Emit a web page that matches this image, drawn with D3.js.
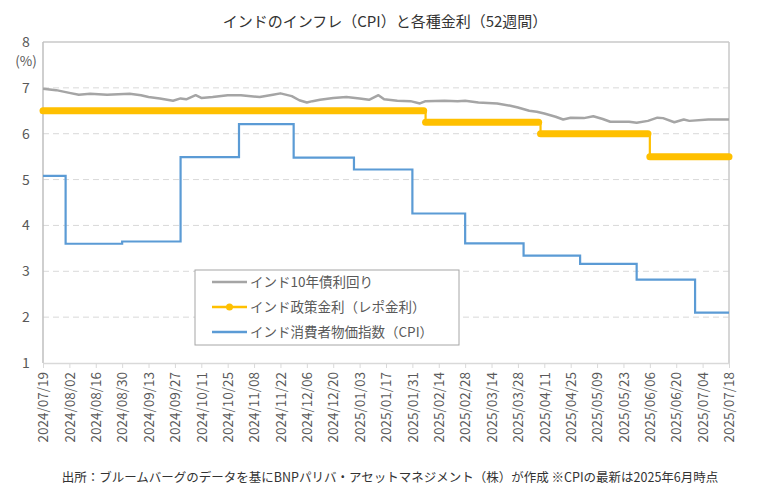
<!DOCTYPE html>
<html>
<head>
<meta charset="utf-8">
<script src="https://cdn.jsdelivr.net/npm/d3@7"></script>
<style>
  body { margin: 0; background: #fff; }
  svg text { font-family: "Noto Sans CJK JP", "Noto Sans", sans-serif; }
</style>
</head>
<body>
<div id="chart-container"></div>
<script>
// 10年債利回り（読み取り値）
const bondDates = ["2024-07-19","2024-07-26","2024-08-02","2024-08-07","2024-08-13","2024-08-22","2024-09-03","2024-09-09","2024-09-13","2024-09-19","2024-09-26","2024-09-30","2024-10-03","2024-10-08","2024-10-11","2024-10-17","2024-10-25","2024-11-01","2024-11-11","2024-11-18","2024-11-22","2024-11-28","2024-12-02","2024-12-06","2024-12-09","2024-12-13","2024-12-20","2024-12-27","2025-01-03","2025-01-08","2025-01-13","2025-01-16","2025-01-23","2025-01-30","2025-02-04","2025-02-07","2025-02-17","2025-02-24","2025-02-28","2025-03-07","2025-03-17","2025-03-24","2025-03-28","2025-04-03","2025-04-07","2025-04-11","2025-04-17","2025-04-21","2025-04-25","2025-05-02","2025-05-07","2025-05-12","2025-05-16","2025-05-26","2025-05-30","2025-06-05","2025-06-10","2025-06-13","2025-06-19","2025-06-24","2025-06-27","2025-07-07","2025-07-18"];
const bondValues = [6.98,6.95,6.89,6.85,6.87,6.85,6.87,6.84,6.80,6.77,6.72,6.77,6.75,6.84,6.78,6.80,6.84,6.84,6.80,6.85,6.88,6.82,6.73,6.68,6.71,6.74,6.78,6.80,6.77,6.74,6.84,6.75,6.72,6.71,6.66,6.71,6.72,6.71,6.72,6.68,6.66,6.61,6.57,6.50,6.48,6.44,6.37,6.31,6.35,6.34,6.38,6.32,6.26,6.26,6.24,6.28,6.35,6.34,6.25,6.31,6.28,6.31,6.31];

// 政策金利（レポ金利）
const repoDates = ["2024-07-19","2025-02-07","2025-04-09","2025-06-06","2025-07-18"];
const repoValues = [6.50,6.25,6.00,5.50,5.50];

// CPI（前年比）
const cpiDates = ["2024-07-19","2024-07-31","2024-08-30","2024-09-30","2024-10-31","2024-11-29","2024-12-31","2025-01-31","2025-02-28","2025-03-31","2025-04-30","2025-05-30","2025-06-30","2025-07-18"];
const cpiValues = [5.08,3.60,3.65,5.49,6.21,5.48,5.22,4.26,3.61,3.34,3.16,2.82,2.10,2.10];

const yTicks = [1,2,3,4,5,6,7,8];
const seriesNames = ["インド10年債利回り","インド政策金利（レポ金利）","インド消費者物価指数（CPI）"];
const seriesColors = ["#A5A5A5","#FFC000","#5B9BD5"];

const parse = d3.timeParse("%Y-%m-%d");
const fmt = d3.timeFormat("%Y/%m/%d");
const toRows = (dates, values) => dates.map((d, i) => ({ date: parse(d), value: values[i] }));
const bond = toRows(bondDates, bondValues);
const repo = toRows(repoDates, repoValues);
const cpi = toRows(cpiDates, cpiValues);

const width = 780, height = 497;
const margin = { top: 42, right: 51, bottom: 134, left: 43 };
const innerW = width - margin.left - margin.right;
const innerH = height - margin.top - margin.bottom;

const svg = d3.select("#chart-container")
    .append("svg")
    .attr("width", width)
    .attr("height", height);

// タイトル
svg.append("text")
    .attr("x", 385).attr("y", 27)
    .attr("text-anchor", "middle")
    .attr("font-size", 15)
    .attr("fill", "#333")
    .text("インドのインフレ（CPI）と各種金利（52週間）");

const g = svg.append("g").attr("transform", `translate(${margin.left},${margin.top})`);

const start = parse("2024-07-19"), end = parse("2025-07-18");
const x = d3.scaleTime().domain([start, end]).range([0, innerW]);
const y = d3.scaleLinear().domain([1, 8]).range([innerH, 0]);

// グリッド
g.selectAll(".grid")
    .data(yTicks.filter(t => t > 1 && t < 8))
    .enter()
    .append("line")
    .attr("x1", 0).attr("x2", innerW)
    .attr("y1", d => y(d)).attr("y2", d => y(d))
    .attr("stroke", "#d9d9d9")
    .attr("stroke-dasharray", "6,4");

// 枠
g.append("line").attr("x1", 0).attr("x2", innerW).attr("y1", y(8)).attr("y2", y(8)).attr("stroke", "#c8c8c8").attr("stroke-width", 1.5);
g.append("line").attr("x1", 0).attr("x2", 0).attr("y1", 0).attr("y2", innerH).attr("stroke", "#bfbfbf").attr("stroke-width", 1.5);
g.append("line").attr("x1", innerW).attr("x2", innerW).attr("y1", 0).attr("y2", innerH).attr("stroke", "#c8c8c8").attr("stroke-width", 1.5);

// y軸ラベル
g.selectAll(".ylab")
    .data(yTicks)
    .enter()
    .append("text")
    .attr("x", -17).attr("y", d => y(d) + 5)
    .attr("text-anchor", "middle")
    .attr("font-size", 14)
    .attr("fill", "#595959")
    .text(d => d);
g.append("text")
    .attr("x", -17).attr("y", y(8) + 24)
    .attr("text-anchor", "middle")
    .attr("font-size", 13.5)
    .attr("fill", "#595959")
    .text("(%)");

// x軸（2週間ごと）
const xTicks = d3.timeDays(start, d3.timeDay.offset(end, 1)).filter((d, i) => i % 14 === 0);
const xAxis = g.append("g")
    .attr("transform", `translate(0,${innerH})`)
    .call(d3.axisBottom(x).tickValues(xTicks).tickFormat(fmt).tickSize(5).tickSizeOuter(0));
xAxis.select(".domain").attr("stroke", "#d9d9d9").attr("stroke-width", 1.5);
xAxis.selectAll(".tick line").attr("stroke", "#d9d9d9");
xAxis.selectAll(".tick text")
    .attr("font-size", 13.5)
    .attr("fill", "#595959")
    .attr("text-anchor", "end")
    .attr("transform", "rotate(-90)")
    .attr("x", -9)
    .attr("y", 0)
    .attr("dy", "0.35em");

// 系列
const line = d3.line().x(d => x(d.date)).y(d => y(d.value));
const stepLine = d3.line().x(d => x(d.date)).y(d => y(d.value)).curve(d3.curveStepAfter);

g.append("path")
    .datum(bond)
    .attr("d", line)
    .attr("fill", "none")
    .attr("stroke", seriesColors[0])
    .attr("stroke-width", 2.5)
    .attr("stroke-linejoin", "round");

// 政策金利：マーカーが連なって太い帯に見える
g.append("path")
    .datum(repo)
    .attr("d", stepLine)
    .attr("fill", "none")
    .attr("stroke", seriesColors[1])
    .attr("stroke-width", 2.2);
const repoBands = repo.slice(0, -1).map((d, i) => ({
    from: d.date,
    to: i + 1 < repo.length - 1 ? d3.timeDay.offset(repo[i + 1].date, -1) : repo[i + 1].date,
    value: d.value
}));
g.selectAll(".repoBand")
    .data(repoBands)
    .enter()
    .append("line")
    .attr("x1", d => x(d.from)).attr("x2", d => x(d.to))
    .attr("y1", d => y(d.value)).attr("y2", d => y(d.value))
    .attr("stroke", seriesColors[1])
    .attr("stroke-width", 7)
    .attr("stroke-linecap", "round");

g.append("path")
    .datum(cpi)
    .attr("d", stepLine)
    .attr("fill", "none")
    .attr("stroke", seriesColors[2])
    .attr("stroke-width", 2.2);

// 凡例
const legend = svg.append("g").attr("transform", "translate(195,270)");
legend.append("rect")
    .attr("width", 264).attr("height", 75)
    .attr("fill", "#fff")
    .attr("stroke", "#a6a6a6");
seriesNames.forEach((name, i) => {
    const ly = 12 + i * 25;
    legend.append("line")
        .attr("x1", 17).attr("x2", 52)
        .attr("y1", ly).attr("y2", ly)
        .attr("stroke", seriesColors[i])
        .attr("stroke-width", 2.5);
    if (i === 1) {
        legend.append("circle").attr("cx", 34.5).attr("cy", ly).attr("r", 3.5).attr("fill", seriesColors[i]);
    }
    legend.append("text")
        .attr("x", 55).attr("y", ly + 5)
        .attr("font-size", 13.5)
        .attr("fill", "#595959")
        .text(name);
});

// 出所
svg.append("text")
    .attr("x", 390).attr("y", 482)
    .attr("text-anchor", "middle")
    .attr("font-size", 12.5)
    .attr("fill", "#333")
    .text("出所：ブルームバーグのデータを基にBNPパリバ・アセットマネジメント（株）が作成 ※CPIの最新は2025年6月時点");
</script>
</body>
</html>
